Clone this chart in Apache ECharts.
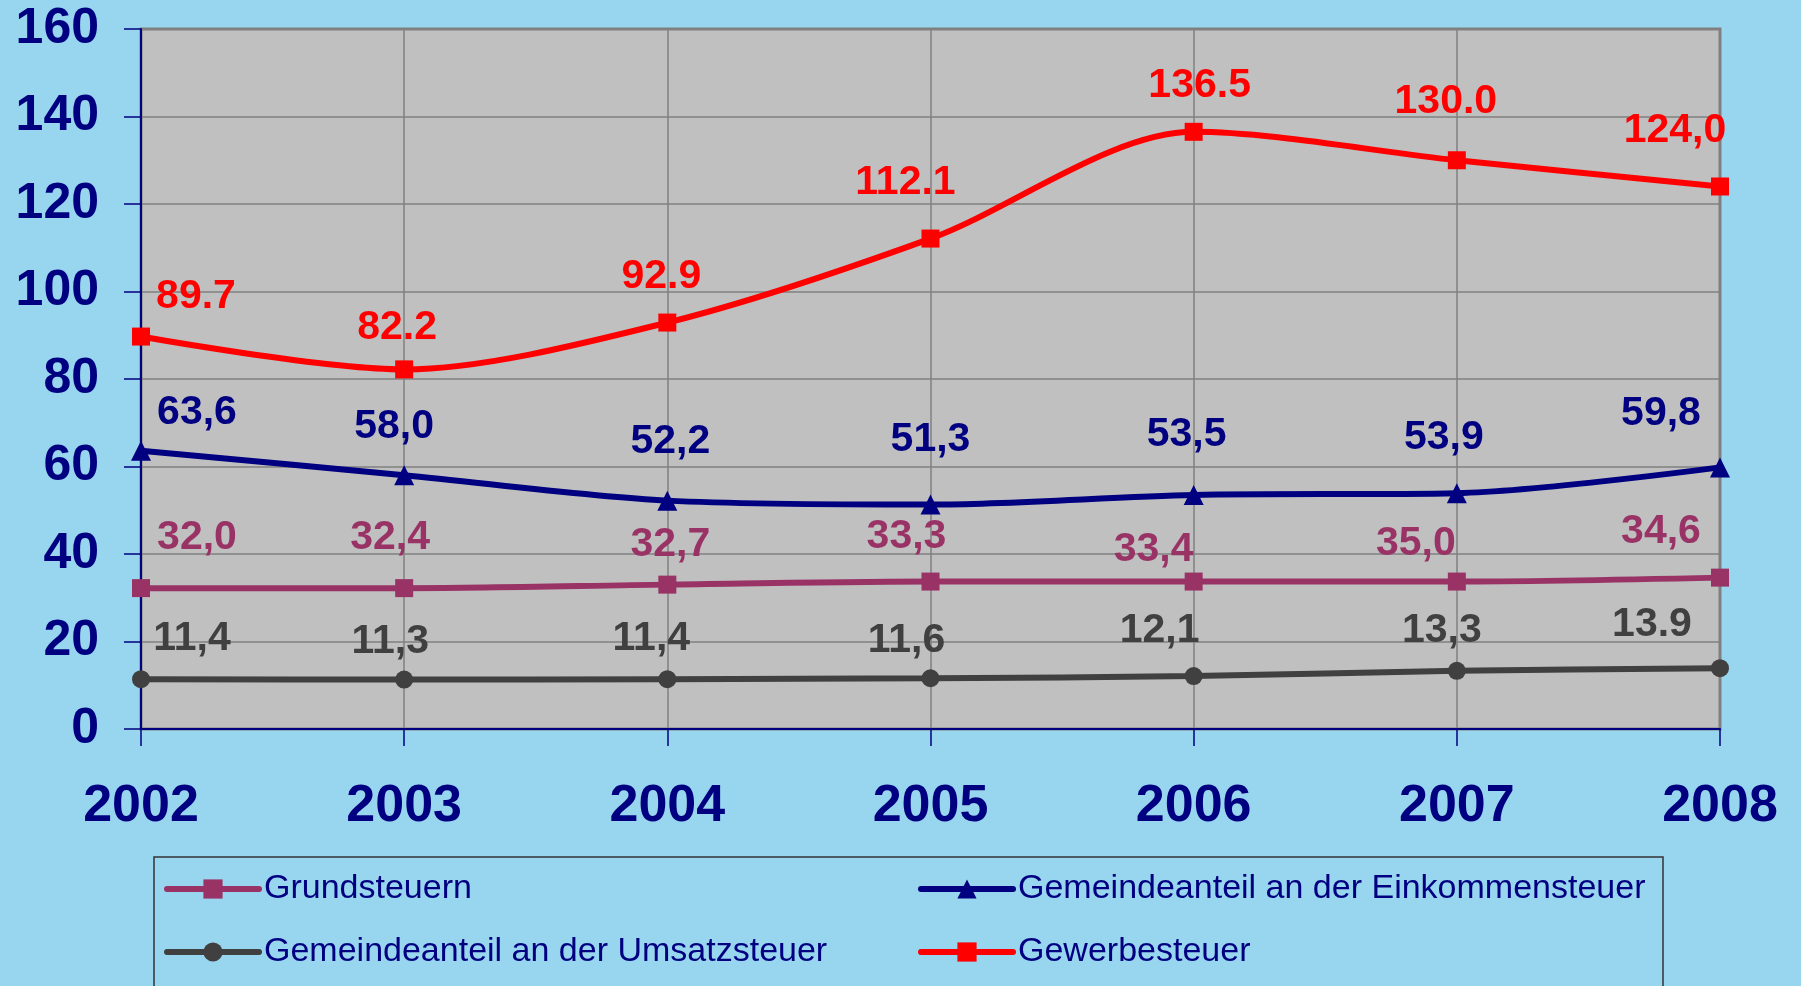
<!DOCTYPE html>
<html>
<head>
<meta charset="utf-8">
<title>Steuereinnahmen 2002-2008</title>
<script src="https://cdn.jsdelivr.net/npm/echarts@6/dist/echarts.min.js"></script>
<style>
  html, body { margin: 0; padding: 0; background: #98d6ef; }
  #myChart { width: 1801px; height: 986px; }
</style>
</head>
<body>
<div id="myChart"></div>
<script>
  // Jahre
  let years = ['2002', '2003', '2004', '2005', '2006', '2007', '2008']

  // Werte je Steuerart
  let grundValues = [32.2, 32.2, 33.0, 33.7, 33.7, 33.7, 34.6]
  let einkommenValues = [63.6, 58.0, 52.2, 51.3, 53.5, 53.9, 59.8]
  let umsatzValues = [11.4, 11.3, 11.4, 11.6, 12.1, 13.3, 13.9]
  let gewerbeValues = [89.7, 82.2, 92.9, 112.1, 136.5, 130.0, 124.0]

  // Beschriftungen so wie im Original (gemischte Dezimalzeichen)
  let grundLabels = ['32,0', '32,4', '32,7', '33,3', '33,4', '35,0', '34,6']
  let einkommenLabels = ['63,6', '58,0', '52,2', '51,3', '53,5', '53,9', '59,8']
  let umsatzLabels = ['11,4', '11,3', '11,4', '11,6', '12,1', '13,3', '13.9']
  let gewerbeLabels = ['89.7', '82.2', '92.9', '112.1', '136.5', '130.0', '124,0']

  let yTicks = [0, 20, 40, 60, 80, 100, 120, 140, 160]

  // Verschiebung der Beschriftungen relativ zum Punkt (Pixel)
  let grundShift = [[56, -50], [-14, -50], [3, -40], [-24, -45], [-40, -32], [-41, -38], [-59, -46]]
  let einkommenShift = [[56, -38], [-10, -49], [3, -59], [0, -65], [-7, -60], [-13, -56], [-59, -54]]
  let umsatzShift = [[51, -40], [-14, -38], [-16, -40], [-24, -38], [-34, -45], [-15, -40], [-68, -44]]
  let gewerbeShift = [[55, -40], [-7, -42], [-6, -46], [-25, -56], [6, -46], [-11, -59], [-45, -56]]

  let fontFamily = '"Liberation Sans", Arial, sans-serif'

  function makeSeries (name, values, labels, shifts, color, symbol) {
    return {
      name: name,
      type: 'line',
      smooth: 0.3,
      symbol: symbol,
      symbolSize: symbol === 'triangle' ? 20 : 18,
      lineStyle: { color: color, width: 6 },
      itemStyle: { color: color },
      data: values.map(function (v, i) {
        return {
          value: v,
          label: { offset: shifts[i] }
        }
      }),
      label: {
        show: true,
        position: 'inside',
        color: color,
        fontFamily: fontFamily,
        fontWeight: 'bold',
        fontSize: 41,
        formatter: function (p) { return labels[p.dataIndex] }
      },
      z: 3
    }
  }

  let myChart = echarts.init(document.getElementById('myChart'))

  let option = {
    backgroundColor: '#98d6ef',
    animation: false,
    grid: {
      left: 141,
      right: 81,
      top: 29,
      bottom: 257,
      show: true,
      backgroundColor: '#c0c0c0',
      borderColor: '#808080',
      borderWidth: 3
    },
    legend: {
      left: 154,
      top: 857,
      width: 1500,
      padding: [5, 0, 40, 10],
      itemWidth: 92,
      itemHeight: 24,
      itemGap: 9,
      borderColor: '#333333',
      borderWidth: 1.5,
      lineStyle: { width: 6, cap: 'round' },
      data: ['Grundsteuern', 'Gemeindeanteil an der Einkommensteuer', 'Gemeindeanteil an der Umsatzsteuer', 'Gewerbesteuer'],
      textStyle: {
        color: '#000080',
        fontFamily: fontFamily,
        fontSize: 34,
        width: 645,
        height: 54,
        lineHeight: 54
      }
    },
    xAxis: {
      type: 'category',
      boundaryGap: false,
      data: years,
      axisLine: { lineStyle: { color: '#000080', width: 2 } },
      axisTick: { show: true, length: 17, lineStyle: { color: '#000080', width: 1.5 } },
      splitLine: { show: true, lineStyle: { color: '#808080', width: 1.5 } },
      axisLabel: {
        color: '#000080',
        fontFamily: fontFamily,
        fontWeight: 'bold',
        fontSize: 52,
        margin: 52
      }
    },
    yAxis: {
      type: 'value',
      min: yTicks[0],
      max: yTicks[yTicks.length - 1],
      interval: 20,
      axisLine: { show: true, lineStyle: { color: '#000080', width: 2 } },
      axisTick: { show: true, length: 17, lineStyle: { color: '#000080', width: 1.5 } },
      splitLine: { show: true, lineStyle: { color: '#808080', width: 1.5 } },
      axisLabel: {
        color: '#000080',
        fontFamily: fontFamily,
        fontWeight: 'bold',
        fontSize: 50,
        margin: 42
      }
    },
    series: [
      makeSeries('Grundsteuern', grundValues, grundLabels, grundShift, '#993366', 'rect'),
      makeSeries('Gemeindeanteil an der Einkommensteuer', einkommenValues, einkommenLabels, einkommenShift, '#000080', 'triangle'),
      makeSeries('Gemeindeanteil an der Umsatzsteuer', umsatzValues, umsatzLabels, umsatzShift, '#404040', 'circle'),
      makeSeries('Gewerbesteuer', gewerbeValues, gewerbeLabels, gewerbeShift, '#ff0000', 'rect')
    ]
  }

  myChart.setOption(option, true)
</script>
</body>
</html>
